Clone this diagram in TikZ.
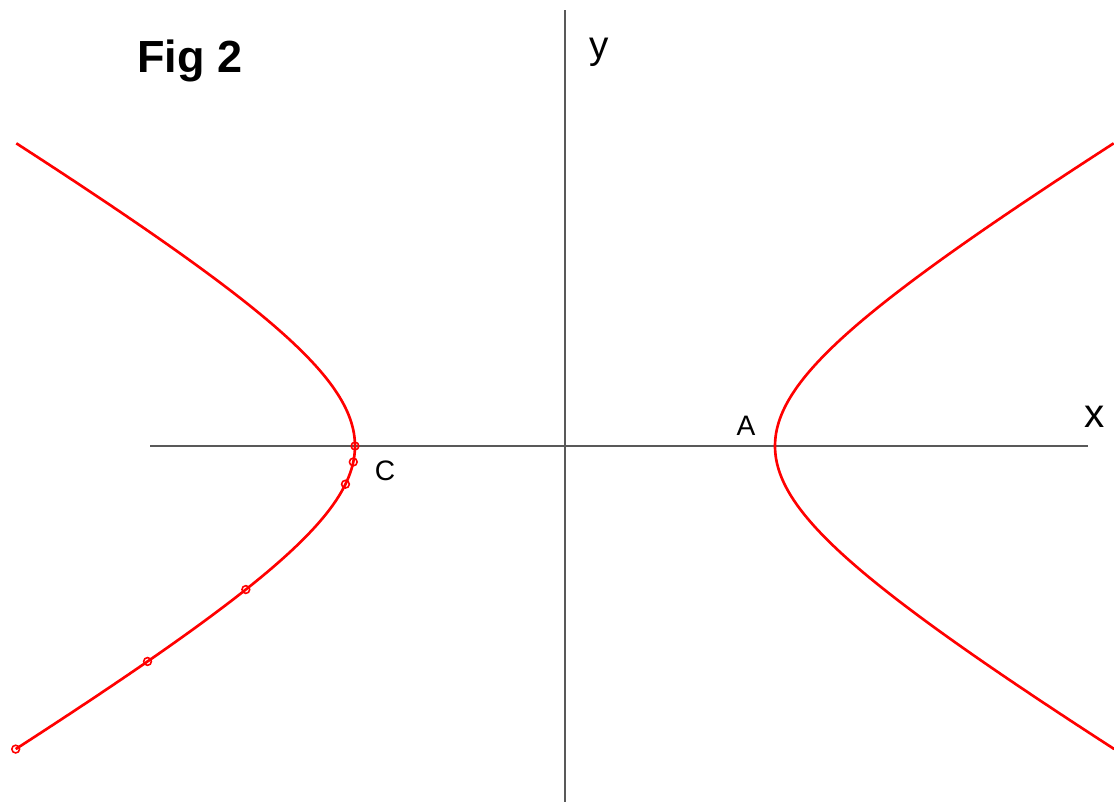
\documentclass[tikz,border=0pt]{standalone}
\usepackage{fontspec}
\setmainfont{Liberation Sans}
\usetikzlibrary{positioning, calc}

\begin{document}
\begin{tikzpicture}[x=0.01cm, y=-0.01cm,
    axis/.style={draw=black!65, line width=0.6pt},
    branch/.style={draw=red, line width=0.75pt, smooth, samples=90},
    pt/.style={circle, draw=red, line width=0.45pt, inner sep=0pt, minimum size=2.2pt},
    lbl/.style={inner sep=0pt, anchor=base}]

    % Parameters
    \def\a{210} % semi axis along x
    \def\b{125.4} % semi axis along y
    \def\tmax{1.616} % end of the branches

    \useasboundingbox (0,0) rectangle (1114,802);

    % Origin and axis ends
    \coordinate (O) at (565,446);
    \coordinate (xL) at (150,446);
    \coordinate (xR) at (1088,446);
    \coordinate (yT) at (565,10);
    \coordinate (yB) at (565,802);

    \draw[axis] (xL) -- (xR);
    \draw[axis] (yT) -- (yB);

    % The two branches
    \draw[branch] plot[domain=-\tmax:\tmax, variable=\t] ({565+\a*cosh(\t)},{446-\b*sinh(\t)});
    \draw[branch] plot[domain=-\tmax:\tmax, variable=\t] ({565-\a*cosh(\t)},{446-\b*sinh(\t)});

    % Marked points on the lower left branch
    \foreach \t [count=\i] in {0, -0.127, -0.30, -0.98, -1.31, -1.616} {
        \node[pt] (P\i) at ({565-\a*cosh(\t)},{446-\b*sinh(\t)}) {};
    }

    % Labels
    \node[lbl, font=\fontsize{12.8}{14}\selectfont\bfseries] (fig) at (190,72) {Fig 2};
    \node[lbl, font=\fontsize{11}{12}\selectfont] (ylbl) at (599,58) {y};
    \node[lbl, font=\fontsize{11.5}{12}\selectfont] (xlbl) at (1095,427) {x};
    \node[lbl, font=\fontsize{8}{9}\selectfont] (A) at (746,435) {A};
    \node[lbl, font=\fontsize{8}{9}\selectfont] (C) at (385,480) {C};

\end{tikzpicture}
\end{document}
